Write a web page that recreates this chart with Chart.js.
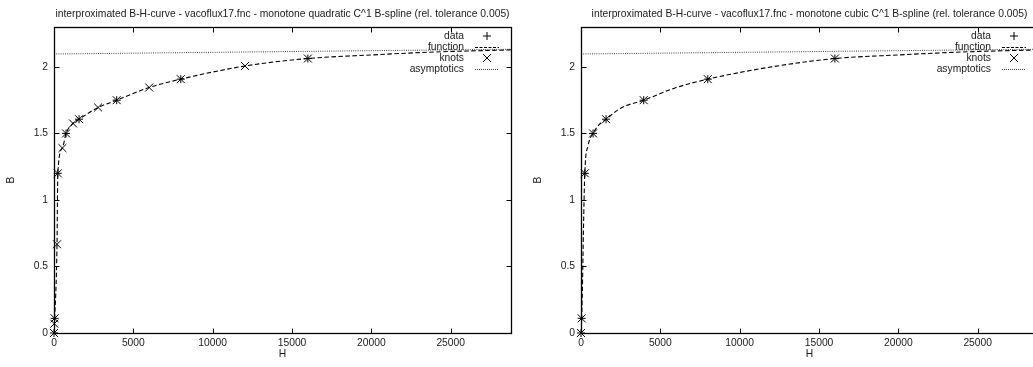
<!DOCTYPE html>
<html><head><meta charset="utf-8">
<script src="https://cdn.jsdelivr.net/npm/chart.js@4/dist/chart.umd.min.js"></script>
<style>
html,body{margin:0;padding:0;background:#fff;overflow:hidden;width:1033px;height:367px;}
#wrap{position:relative;width:1033px;height:367px;overflow:hidden;background:#fff;}
canvas{position:absolute;top:0;}
#c1{left:0}
#c2{left:527px}
</style></head><body>
<div id="wrap"><canvas id="c1" width="565" height="367"></canvas><canvas id="c2" width="565" height="367"></canvas></div>
<script>
const titleQuad = 'interproximated B-H-curve - vacoflux17.fnc - monotone quadratic C^1 B-spline (rel. tolerance 0.005)';
const titleCubic = 'interproximated B-H-curve - vacoflux17.fnc - monotone cubic C^1 B-spline (rel. tolerance 0.005)';
const legendLabels = ['data', 'function', 'knots', 'asymptotics'];
const xTicks = [0, 5000, 10000, 15000, 20000, 25000];
const yTicks = [0, 0.5, 1, 1.5, 2];
const xMax = 28800;
const yMax = 2.3;

// measured data (+)
const dataH = [0, 40, 240, 760, 1580, 3950, 7990, 16000];
const dataB = [0, 0.11, 1.2, 1.5, 1.607, 1.75, 1.908, 2.063];

// quadratic spline: knots (x) and function curve (dashed)
const knotsQuadH = [0, 20, 40, 190, 240, 530, 760, 1200, 1580, 2780, 3950, 6000, 7990, 12040, 16000];
const knotsQuadB = [0, 0.07, 0.11, 0.667, 1.2, 1.39, 1.5, 1.575, 1.607, 1.695, 1.75, 1.845, 1.908, 2.007, 2.063];
const funcQuadH = [0, 20, 40, 190, 240, 530, 760, 1200, 1580, 2780, 3950, 6000, 7990, 12040, 16000, 20000, 24000, 28800];
const funcQuadB = [0, 0.07, 0.11, 0.667, 1.2, 1.39, 1.5, 1.575, 1.607, 1.695, 1.75, 1.845, 1.908, 2.007, 2.063, 2.09, 2.112, 2.128];

// cubic spline: knots and function curve
const knotsCubicH = [0, 40, 240, 760, 1580, 3950, 7990, 16000];
const knotsCubicB = [0, 0.11, 1.2, 1.5, 1.607, 1.75, 1.908, 2.063];
const funcCubicH = [0, 40, 100, 150, 240, 450, 760, 1100, 1580, 2500, 3950, 6000, 7990, 12000, 16000, 20000, 24000, 28800];
const funcCubicB = [0, 0.11, 0.4, 0.75, 1.2, 1.41, 1.5, 1.56, 1.607, 1.69, 1.75, 1.845, 1.908, 2.0, 2.063, 2.09, 2.112, 2.128];

// asymptotics (dotted)
const asymH = [0, 28800];
const asymB = [2.097, 2.133];

const FONT = '"Liberation Sans", Arial, Helvetica, sans-serif';
const FS = 10.3;
const TXT = '#1a1a1a';

function pts(xs, ys) { return xs.map((x, i) => ({x: x, y: ys[i]})); }

const framePlugin = {
  id: 'frame',
  afterDatasetsDraw(chart) {
    const ctx = chart.ctx;
    const a = chart.chartArea;
    const xs = chart.scales.x, ys = chart.scales.y;
    const L = Math.round(a.left) + 0.5, R = Math.round(a.right) + 0.5;
    const T = Math.round(a.top) + 0.5, B = Math.round(a.bottom) + 0.5;
    ctx.save();
    ctx.strokeStyle = '#000';
    ctx.lineWidth = 1;
    ctx.setLineDash([]);
    ctx.beginPath();
    xTicks.forEach(v => {
      const p = Math.round(xs.getPixelForValue(v)) + 0.5;
      ctx.moveTo(p, B); ctx.lineTo(p, B - 5);
      ctx.moveTo(p, T); ctx.lineTo(p, T + 5);
    });
    yTicks.forEach(v => {
      const p = Math.round(ys.getPixelForValue(v)) + 0.5;
      ctx.moveTo(L, p); ctx.lineTo(L + 5, p);
      ctx.moveTo(R, p); ctx.lineTo(R - 5, p);
    });
    ctx.stroke();
    ctx.lineWidth = 1.3;
    ctx.strokeRect(L, T, R - L, B - T);

    // legend (gnuplot style: text then sample)
    ctx.font = FS + 'px ' + FONT;
    ctx.fillStyle = TXT;
    ctx.textAlign = 'right';
    ctx.textBaseline = 'middle';
    const tx = a.right - 47;
    const s0 = a.right - 36, s1 = a.right - 12;
    const sc = (s0 + s1) / 2;
    legendLabels.forEach((lab, i) => {
      const y = a.top + 9 + 11 * i;
      ctx.fillText(lab, tx, y);
      ctx.save();
      ctx.strokeStyle = '#000';
      ctx.lineWidth = 1;
      ctx.beginPath();
      if (i === 0) {
        ctx.moveTo(sc - 4, y); ctx.lineTo(sc + 4, y);
        ctx.moveTo(sc, y - 4); ctx.lineTo(sc, y + 4);
        ctx.stroke();
      } else if (i === 2) {
        ctx.moveTo(sc - 4, y - 4); ctx.lineTo(sc + 4, y + 4);
        ctx.moveTo(sc - 4, y + 4); ctx.lineTo(sc + 4, y - 4);
        ctx.stroke();
      } else if (i === 1) {
        ctx.setLineDash([3, 1.5]);
        ctx.moveTo(s0, Math.round(y) + 0.5); ctx.lineTo(s1, Math.round(y) + 0.5);
        ctx.stroke();
      } else {
        ctx.strokeStyle = '#444';
        ctx.setLineDash([1, 1]);
        ctx.moveTo(s0, Math.round(y) + 0.5); ctx.lineTo(s1, Math.round(y) + 0.5);
        ctx.stroke();
      }
      ctx.restore();
    });
    ctx.restore();
  }
};

function makeChart(id, title, knH, knB, fnH, fnB) {
  return new Chart(document.getElementById(id), {
    type: 'scatter',
    data: {
      datasets: [
        {label: 'asymptotics', data: pts(asymH, asymB), showLine: true, borderColor: '#444', borderWidth: 1,
         borderDash: [1, 1.2], pointRadius: 0, order: 4},
        {label: 'function', data: pts(fnH, fnB), showLine: true, borderColor: '#000', borderWidth: 1.1,
         borderDash: [4.5, 2.5], cubicInterpolationMode: 'monotone', pointRadius: 0, order: 3},
        {label: 'knots', data: pts(knH, knB), showLine: false, pointStyle: 'crossRot', pointRadius: 5.6,
         borderColor: '#000', borderWidth: 1, backgroundColor: '#000', clip: false, order: 2},
        {label: 'data', data: pts(dataH, dataB), showLine: false, pointStyle: 'cross', pointRadius: 4,
         borderColor: '#000', borderWidth: 1, backgroundColor: '#000', clip: false, order: 1}
      ]
    },
    options: {
      responsive: false,
      animation: false,
      events: [],
      layout: {padding: {left: 0, right: 54, top: 0, bottom: 0}},
      plugins: {
        legend: {display: false},
        tooltip: {enabled: false},
        title: {display: true, fullSize: false, text: title, color: TXT,
                font: {family: FONT, size: FS, weight: 'normal', lineHeight: '13px'},
                padding: {top: 8, bottom: 6}}
      },
      scales: {
        x: {
          type: 'linear', min: 0, max: xMax,
          grid: {display: false, drawTicks: false},
          border: {display: false},
          afterBuildTicks: s => { s.ticks = xTicks.map(v => ({value: v})); },
          afterFit: s => { s.height = 34; },
          ticks: {color: TXT, font: {family: FONT, size: FS}, padding: 4, maxRotation: 0, callback: v => String(v)},
          title: {display: true, text: 'H', color: TXT, font: {family: FONT, size: FS}, padding: {top: 0, bottom: 7}}
        },
        y: {
          type: 'linear', min: 0, max: yMax,
          grid: {display: false, drawTicks: false},
          border: {display: false},
          afterBuildTicks: s => { s.ticks = yTicks.map(v => ({value: v})); },
          afterFit: s => { s.width = 54; },
          ticks: {color: TXT, font: {family: FONT, size: FS}, padding: 6, callback: v => String(v)},
          title: {display: true, text: 'B', color: TXT, font: {family: FONT, size: FS}, padding: {top: 5, bottom: 0}}
        }
      }
    },
    plugins: [framePlugin]
  });
}

makeChart('c1', titleQuad, knotsQuadH, knotsQuadB, funcQuadH, funcQuadB);
makeChart('c2', titleCubic, knotsCubicH, knotsCubicB, funcCubicH, funcCubicB);
</script>
</body></html>
